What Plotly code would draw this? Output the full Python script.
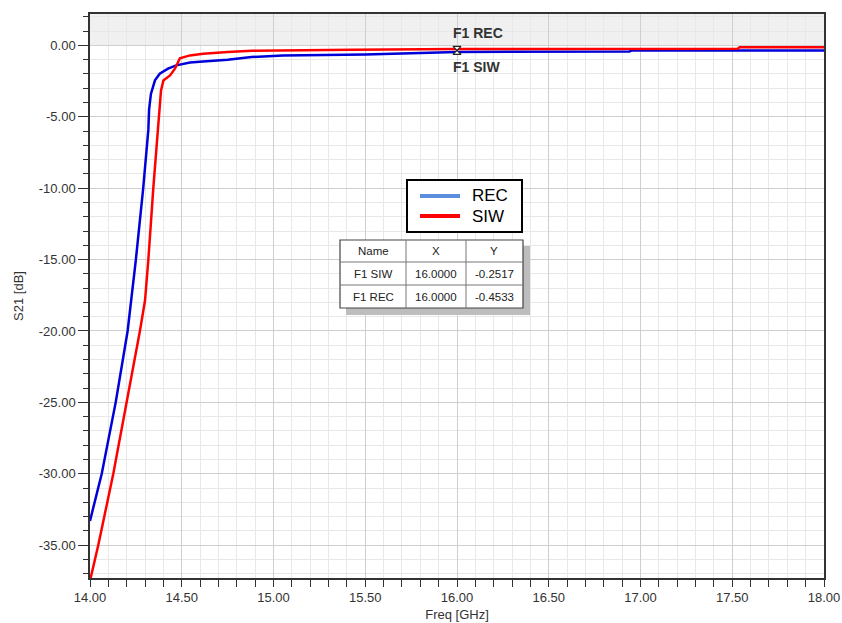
import plotly.graph_objects as go

# ---------------- data ----------------
freq_rec = [14.000, 14.064, 14.140, 14.205, 14.250, 14.290, 14.318, 14.322, 14.332, 14.354,
            14.380, 14.425, 14.470, 14.545, 14.616, 14.750, 14.880, 15.050, 15.500, 15.850,
            16.000, 16.940, 16.950, 18.000]
s21_rec = [-33.3, -30.0, -25.0, -20.0, -15.0, -10.0, -5.9, -4.5, -3.4, -2.45,
           -1.98, -1.63, -1.40, -1.20, -1.12, -1.00, -0.82, -0.70, -0.63, -0.54,
           -0.4533, -0.42, -0.36, -0.35]

freq_siw = [14.000, 14.009, 14.045, 14.127, 14.200, 14.272, 14.300, 14.318, 14.345, 14.369,
            14.378, 14.387, 14.400, 14.436, 14.463, 14.490, 14.545, 14.616, 14.750, 14.880,
            15.430, 16.000, 17.530, 17.540, 18.000]
s21_siw = [-37.5, -37.0, -35.0, -30.0, -25.0, -20.0, -17.85, -15.0, -10.0, -6.0,
           -4.5, -3.15, -2.45, -2.1, -1.63, -0.90, -0.70, -0.58, -0.47, -0.38,
           -0.30, -0.2517, -0.23, -0.12, -0.12]

series_names = ["REC", "SIW"]
legend_colors = ["#5b8fdc", "#ff0000"]

marker_x = 16.0
marker_y = -0.35
marker_labels = ["F1 REC", "F1 SIW"]

table_header = ["Name", "X", "Y"]
table_rows = [["F1 SIW", "16.0000", "-0.2517"],
              ["F1 REC", "16.0000", "-0.4533"]]

x_ticks = [14.0, 14.5, 15.0, 15.5, 16.0, 16.5, 17.0, 17.5, 18.0]
y_ticks = [0, -5, -10, -15, -20, -25, -30, -35]

# ---------------- layout helpers ----------------
W, H = 842, 623
L, R, T, B = 90, 824, 14, 578
FONT = "Liberation Sans, Arial, sans-serif"


def px(xpix):
    return (xpix - L) / (R - L)


def py(ypix):
    return (B - ypix) / (B - T)


fig = go.Figure()

fig.add_trace(go.Scatter(x=freq_rec, y=s21_rec, mode="lines", name=series_names[0],
                         line=dict(color="#0000d8", width=2.5), showlegend=False))
fig.add_trace(go.Scatter(x=freq_siw, y=s21_siw, mode="lines", name=series_names[1],
                         line=dict(color="#ff0000", width=2.5), showlegend=False))
# marker
fig.add_trace(go.Scatter(x=[marker_x], y=[marker_y], mode="markers", showlegend=False,
                         marker=dict(symbol="hourglass", size=8, color="white",
                                     line=dict(color="#222222", width=1.2))))

shapes = []
annotations = []
# gray band above 0 dB
shapes.append(dict(type="rect", xref="x", yref="y", x0=14.0, x1=18.0, y0=0, y1=2.2,
                   fillcolor="#f0f0f0", line=dict(width=0), layer="below"))

# legend box (drawn manually)
lx0, lx1, ly0, ly1 = 407, 522, 180, 232
shapes.append(dict(type="rect", xref="paper", yref="paper",
                   x0=px(lx0), x1=px(lx1), y0=py(ly1), y1=py(ly0),
                   fillcolor="white", line=dict(color="black", width=2), layer="above"))
for i, (nm, col) in enumerate(zip(series_names, legend_colors)):
    yy = 196 + 20 * i
    shapes.append(dict(type="line", xref="paper", yref="paper", x0=px(420), x1=px(460),
                       y0=py(yy), y1=py(yy), line=dict(color=col, width=4), layer="above"))
    annotations.append(dict(xref="paper", yref="paper", x=px(470), y=py(yy), text=nm,
                            showarrow=False, xanchor="left", yanchor="middle",
                            font=dict(family=FONT, size=17, color="black")))

# table shadow & body
tx0, tx1, ty0, ty1 = 340, 523, 240, 308
shapes.append(dict(type="rect", xref="paper", yref="paper",
                   x0=px(tx0 + 6), x1=px(tx1 + 7), y0=py(ty1 + 7), y1=py(ty0 + 6),
                   fillcolor="#bdbdbd", line=dict(width=0), layer="above"))
shapes.append(dict(type="rect", xref="paper", yref="paper",
                   x0=px(tx0), x1=px(tx1), y0=py(ty1), y1=py(ty0),
                   fillcolor="white", line=dict(color="#444444", width=1.2), layer="above"))
col_edges = [340, 406, 466, 523]
row_edges = [240, 262, 285, 308]
for cx in col_edges[1:-1]:
    shapes.append(dict(type="line", xref="paper", yref="paper", x0=px(cx), x1=px(cx),
                       y0=py(ty1), y1=py(ty0), line=dict(color="#777777", width=1), layer="above"))
for ry in row_edges[1:-1]:
    shapes.append(dict(type="line", xref="paper", yref="paper", x0=px(tx0), x1=px(tx1),
                       y0=py(ry), y1=py(ry), line=dict(color="#777777", width=1), layer="above"))

all_rows = [table_header] + table_rows
for ri, row in enumerate(all_rows):
    yc = (row_edges[ri] + row_edges[ri + 1]) / 2
    for ci, txt in enumerate(row):
        xc = (col_edges[ci] + col_edges[ci + 1]) / 2
        annotations.append(dict(xref="paper", yref="paper", x=px(xc), y=py(yc),
                                text=txt, showarrow=False, xanchor="center", yanchor="middle",
                                font=dict(family=FONT, size=11.5, color="#222222")))

# marker labels
annotations.append(dict(x=15.967, y=0.84, xref="x", yref="y", text="<b>" + marker_labels[0] + "</b>",
                        showarrow=False, xanchor="left", yanchor="middle",
                        font=dict(family=FONT, size=14, color="#333333")))
annotations.append(dict(x=15.967, y=-1.54, xref="x", yref="y", text="<b>" + marker_labels[1] + "</b>",
                        showarrow=False, xanchor="left", yanchor="middle",
                        font=dict(family=FONT, size=14, color="#333333")))

fig.update_layout(
    width=W, height=H,
    margin=dict(l=L, r=W - R, t=T, b=H - B, autoexpand=False),
    paper_bgcolor="white", plot_bgcolor="white",
    font=dict(family=FONT, size=13, color="#333333"),
    shapes=shapes, annotations=annotations,
    showlegend=False,
)

fig.update_xaxes(
    range=[14.0, 18.0], tickvals=x_ticks, ticktext=[f"{v:.2f}" for v in x_ticks],
    automargin=False,
    showgrid=True, gridcolor="#cfcfcf", gridwidth=1,
    ticks="outside", ticklen=7, tickcolor="#333333", tickwidth=1,
    minor=dict(dtick=0.1, tick0=14.0, showgrid=True, gridcolor="#e8e8e8", gridwidth=1,
               ticks="outside", ticklen=7, tickcolor="#333333"),
    showline=True, linecolor="#333333", linewidth=1.5, mirror=True,
    zeroline=False,
    tickfont=dict(size=13, color="#333333"),
    title=dict(text="Freq [GHz]", standoff=6, font=dict(size=13, color="#333333")),
)
fig.update_yaxes(
    range=[-37.3, 2.2], tickvals=y_ticks, ticktext=[f"{v:.2f}" for v in y_ticks],
    automargin=False,
    showgrid=True, gridcolor="#cfcfcf", gridwidth=1,
    ticks="outside", ticklen=10, tickcolor="#333333", tickwidth=1,
    minor=dict(dtick=1, tick0=0, showgrid=True, gridcolor="#e8e8e8", gridwidth=1,
               ticks="outside", ticklen=5, tickcolor="#333333"),
    showline=True, linecolor="#333333", linewidth=1.5, mirror=True,
    zeroline=False,
    tickfont=dict(size=13, color="#333333"),
    title=dict(text="S21 [dB]", standoff=12, font=dict(size=13, color="#333333")),
)

fig.write_html("out.html")
